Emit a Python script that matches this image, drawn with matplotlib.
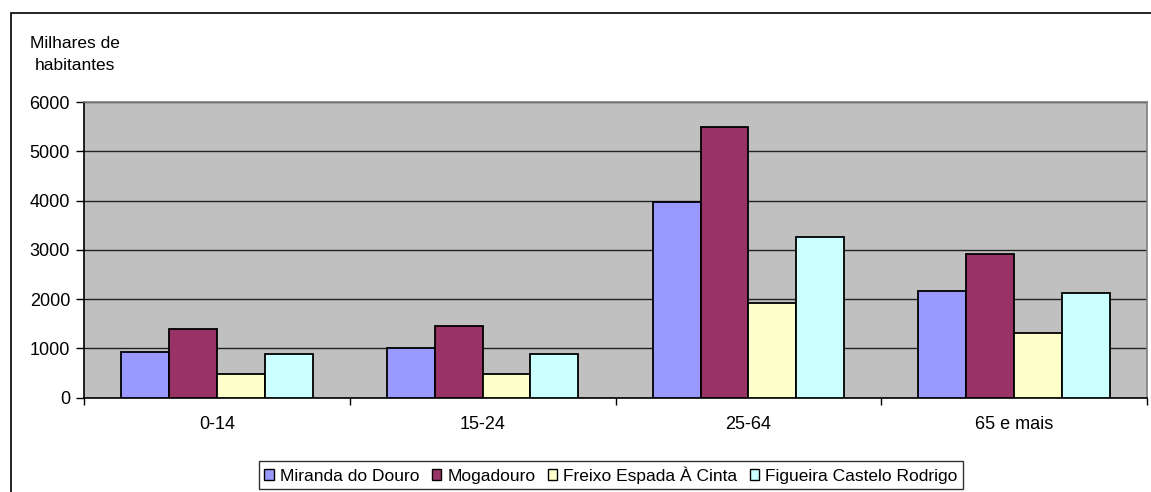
import matplotlib
matplotlib.use('Agg')
import matplotlib.pyplot as plt
from matplotlib.patches import Patch, Rectangle
import numpy as np

plt.rcParams['font.family'] = ['Liberation Sans', 'DejaVu Sans']

categorias = ['0-14', '15-24', '25-64', '65 e mais']
miranda = [920, 1010, 3960, 2170]
mogadouro = [1390, 1460, 5500, 2910]
freixo = [480, 470, 1920, 1310]
figueira = [880, 880, 3260, 2130]

series = ['Miranda do Douro', 'Mogadouro', 'Freixo Espada À Cinta', 'Figueira Castelo Rodrigo']
cores = ['#9999FF', '#993366', '#FFFFCC', '#CCFFFF']
valores = [miranda, mogadouro, freixo, figueira]

W, H = 1151, 492
fs = 12.5
fig = plt.figure(figsize=(W / 100, H / 100), dpi=100)
ax = fig.add_axes([84 / W, 1 - 397.5 / H, (1147 - 84) / W, (397.5 - 102) / H])
ax.set_facecolor('#C0C0C0')

x = np.arange(len(categorias))
larg = 0.18
for i, (nome, cor, vals) in enumerate(zip(series, cores, valores)):
    ax.bar(x + (i - 1.5) * larg, vals, larg, color=cor, edgecolor='black',
           linewidth=1.3, label=nome, zorder=3)

ax.set_xlim(-0.5, len(categorias) - 0.5)
ax.set_ylim(0, 6000)
ax.set_yticks(range(0, 6001, 1000))
ax.yaxis.grid(True, color='#222222', linewidth=1, zorder=1)
ax.set_axisbelow(True)

ax.set_xticks(x)
ax.set_xticklabels(categorias, fontsize=13)
ax.set_xticks(np.arange(-0.5, len(categorias), 1), minor=True)
ax.tick_params(axis='x', which='major', length=0, pad=13)
ax.tick_params(axis='x', which='minor', length=5, width=1, color='black')
ax.tick_params(axis='y', length=6, width=1, labelsize=13, pad=4)

for s in ['top', 'right']:
    ax.spines[s].set_color('#808080')
    ax.spines[s].set_linewidth(1.2)
for s in ['left', 'bottom']:
    ax.spines[s].set_color('black')
    ax.spines[s].set_linewidth(1.2)

fig.text(30 / W, 1 - 36 / H, 'Milhares de\nhabitantes', fontsize=fs,
         va='top', ha='left', multialignment='center', linespacing=1.55)

handles = [Patch(facecolor=c, edgecolor='black', linewidth=1) for c in cores]
leg = fig.legend(handles, series, loc='upper center', ncol=4,
                 bbox_to_anchor=(611 / W, 1 - 461 / H), fontsize=fs,
                 frameon=True, fancybox=False, edgecolor='black',
                 handlelength=0.55, handleheight=0.55, handletextpad=0.35,
                 columnspacing=0.7, borderpad=0.3, borderaxespad=0)
leg.get_frame().set_linewidth(1)

fig.patches.append(Rectangle((11 / W, -0.1), 1.2, 1 - 13 / H + 0.1,
                             transform=fig.transFigure, fill=False,
                             edgecolor='black', linewidth=1.2))

fig.savefig('out.png', dpi=100)
